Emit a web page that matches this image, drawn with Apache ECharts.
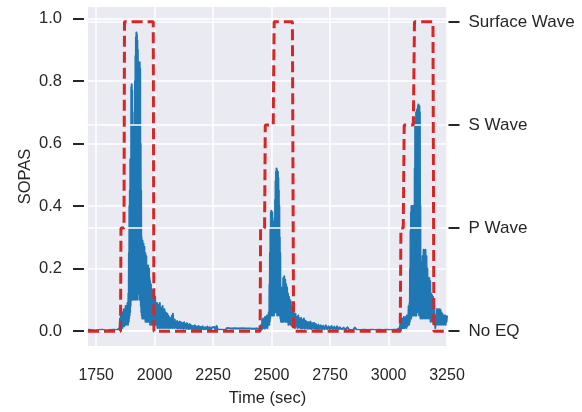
<!DOCTYPE html>
<html><head><meta charset="utf-8">
<script src="https://cdn.jsdelivr.net/npm/echarts@6/dist/echarts.min.js"></script>
<style>html,body{margin:0;padding:0;background:#fff}#c{width:582px;height:412px}</style>
</head><body><div id="c"></div>
<script>
// ---- data ----
var timeTicks = [1750, 2000, 2250, 2500, 2750, 3000, 3250];
var sopasTicks = [0, 0.2, 0.4, 0.6, 0.8, 1.0];
var waveLevels = [0, 1, 2, 3];
var waveLabels = ['No EQ', 'P Wave', 'S Wave', 'Surface Wave'];

// SOPAS signal: [time (sec), value]
var sopasSeries = [
[1715,.004],[1721,.006],[1729,.003],[1737,.005],[1745,.002],[1753,.006],[1761,.003],[1769,.005],[1777,.004],[1785,.006],[1793,.002],[1801,.005],[1809,.003],[1817,.006],[1825,.004],[1833,.005],[1841,.003],[1848,.006],
[1850,.01],[1852,.04],[1854,.01],[1856,.05],[1858,.015],[1860,.06],[1862,.01],[1864,.05],[1866,.02],[1868,.07],[1870,.015],[1872,.06],[1874,.02],[1876,.08],[1878,.02],[1880,.07],[1882,.025],[1884,.09],[1886,.02],[1888,.12],
[1889,.03],[1890,.25],[1891,.04],[1892,.4],[1893,.05],[1894,.45],[1895,.06],[1896,.55],[1897,.08],[1898,.5],[1899,.1],[1900,.78],[1901,.2],[1902,.79],[1903,.15],[1904,.77],[1905,.1],[1906,.6],[1907,.12],[1908,.58],[1909,.1],[1910,.62],
[1911,.15],[1912,.66],[1913,.12],[1914,.7],[1915,.15],[1916,.8],[1917,.1],[1918,.88],[1919,.2],[1920,.94],[1921,.15],[1922,.955],[1923,.2],[1924,.95],[1925,.1],[1926,.93],[1927,.2],[1928,.9],[1929,.12],[1930,.86],[1931,.25],[1932,.85],
[1933,.28],[1934,.8],[1935,.1],[1936,.86],[1937,.15],[1938,.84],[1939,.1],[1940,.6],[1941,.08],[1942,.45],[1943,.06],[1944,.3],[1945,.05],[1946,.28],[1947,.04],[1948,.29],[1949,.05],[1950,.27],[1951,.04],[1952,.28],[1953,.05],[1954,.26],
[1955,.04],[1956,.27],[1957,.05],[1958,.24],[1959,.04],[1960,.25],[1961,.03],[1962,.22],[1963,.04],[1964,.24],[1965,.03],[1966,.2],[1967,.04],[1968,.21],[1969,.03],[1970,.2],[1971,.04],[1972,.21],[1973,.03],[1974,.18],[1975,.03],[1976,.2],
[1977,.03],[1978,.17],[1979,.03],[1980,.16],[1981,.02],[1982,.14],[1983,.03],[1984,.15],[1985,.02],[1986,.12],[1988,.03],[1990,.13],[1992,.02],[1994,.11],[1996,.03],[1998,.1],[2000,.02],[2002,.11],[2004,.02],[2006,.09],[2008,.02],[2010,.09],
[2012,.01],[2014,.085],[2016,.02],[2018,.08],[2020,.01],[2022,.09],[2024,.02],[2026,.075],[2028,.01],[2030,.07],[2032,.02],[2034,.08],[2036,.01],[2038,.065],[2040,.02],[2042,.07],[2044,.01],[2046,.06],[2048,.02],[2050,.058],[2052,.01],
[2054,.055],[2056,.02],[2058,.05],[2060,.01],[2062,.045],[2064,.015],[2066,.04],[2068,.01],[2070,.042],[2072,.015],[2074,.05],[2076,.01],[2078,.055],[2080,.015],[2082,.038],[2084,.01],[2086,.036],[2088,.012],[2090,.03],[2093,.01],
[2096,.032],[2099,.008],[2102,.028],[2105,.01],[2108,.03],[2111,.008],[2114,.027],[2117,.01],[2120,.025],[2123,.007],[2126,.028],[2129,.01],[2132,.022],[2135,.007],[2138,.025],[2141,.008],[2144,.02],[2147,.006],[2150,.022],[2153,.008],
[2156,.018],[2160,.006],[2164,.016],[2168,.005],[2172,.018],[2176,.006],[2180,.014],[2184,.005],[2188,.016],[2192,.004],[2196,.013],[2200,.005],[2205,.015],[2210,.004],[2215,.012],[2220,.005],[2225,.014],[2230,.004],[2235,.012],
[2240,.004],[2245,.011],[2250,.005],[2255,.013],[2260,.004],[2265,.016],[2270,.004],[2278,.01],[2286,.004],[2294,.009],[2302,.003],[2310,.01],[2318,.004],[2326,.008],[2334,.003],[2342,.009],[2350,.004],[2358,.008],[2366,.003],
[2374,.009],[2382,.004],[2390,.008],[2398,.003],[2406,.008],[2414,.004],[2422,.007],[2430,.003],[2438,.008],[2446,.004],[2452,.006],
[2456,.02],[2458,.005],[2460,.035],[2462,.01],[2464,.04],[2466,.01],[2468,.03],[2470,.008],[2472,.045],[2474,.01],[2476,.04],[2478,.015],[2480,.05],[2482,.01],[2484,.045],[2486,.02],[2488,.06],[2490,.02],[2491,.15],[2492,.03],[2493,.25],
[2494,.04],[2495,.33],[2496,.05],[2497,.38],[2498,.06],[2499,.385],[2500,.05],[2501,.37],[2502,.07],[2503,.38],[2504,.05],[2505,.35],[2506,.08],[2507,.3],[2508,.06],[2509,.34],[2510,.05],[2511,.28],[2512,.06],[2513,.36],[2514,.07],
[2515,.42],[2516,.06],[2517,.48],[2518,.08],[2519,.51],[2520,.06],[2521,.52],[2522,.07],[2523,.515],[2524,.05],[2525,.5],[2526,.08],[2527,.51],[2528,.06],[2529,.49],[2530,.07],[2531,.45],[2532,.05],[2533,.4],[2534,.06],[2535,.3],
[2536,.05],[2537,.25],[2538,.04],[2539,.12],[2540,.03],[2542,.1],[2544,.03],[2546,.14],[2548,.03],[2550,.17],[2552,.03],[2554,.175],[2556,.04],[2558,.165],[2560,.03],[2562,.15],[2564,.03],[2566,.14],[2568,.03],[2570,.12],[2572,.02],
[2574,.11],[2576,.03],[2578,.1],[2580,.02],[2582,.095],[2584,.02],[2586,.08],[2588,.015],[2590,.07],[2592,.02],[2594,.06],[2596,.015],[2598,.05],[2600,.01],[2602,.055],[2605,.015],[2608,.045],[2611,.01],[2614,.05],[2617,.012],
[2620,.04],[2623,.01],[2626,.042],[2629,.008],[2632,.035],[2635,.01],[2638,.04],[2641,.008],[2644,.033],[2647,.01],[2650,.03],[2654,.007],[2658,.028],[2662,.008],[2666,.03],[2670,.006],[2674,.025],[2678,.008],[2682,.026],[2686,.006],
[2690,.022],[2695,.005],[2700,.02],[2705,.006],[2710,.018],[2715,.005],[2720,.017],[2726,.004],[2732,.018],[2738,.005],[2744,.015],[2750,.004],[2756,.016],[2762,.005],[2768,.014],[2774,.004],[2780,.015],[2786,.004],[2792,.012],
[2800,.004],[2808,.011],[2816,.003],[2824,.012],[2832,.004],[2840,.01],[2848,.003],[2856,.011],[2864,.004],[2872,.01],[2880,.003],[2888,.009],[2896,.004],[2904,.01],[2912,.003],[2920,.009],[2928,.004],[2936,.01],[2944,.003],
[2952,.009],[2960,.004],[2968,.008],[2976,.003],[2984,.009],[2992,.004],[3000,.008],[3008,.003],[3016,.009],[3024,.004],[3032,.008],[3038,.005],[3044,.006],
[3048,.01],[3050,.02],[3052,.005],[3054,.03],[3056,.01],[3058,.04],[3060,.01],[3062,.035],[3064,.01],[3066,.045],[3068,.01],[3070,.04],[3072,.015],[3074,.045],[3076,.01],[3078,.05],[3080,.015],[3082,.045],[3084,.02],[3086,.08],
[3088,.02],[3090,.09],[3091,.03],[3092,.2],[3093,.04],[3094,.32],[3095,.05],[3096,.38],[3097,.04],[3098,.4],[3099,.05],[3100,.38],[3101,.06],[3102,.4],[3103,.05],[3104,.39],[3105,.06],[3106,.4],[3107,.05],[3108,.38],[3109,.06],
[3110,.4],[3111,.05],[3112,.52],[3113,.06],[3114,.67],[3115,.05],[3116,.68],[3117,.07],[3118,.7],[3119,.05],[3120,.69],[3121,.07],[3122,.71],[3123,.06],[3124,.7],[3125,.08],[3126,.72],[3127,.06],[3128,.725],[3129,.07],[3130,.72],
[3131,.05],[3132,.72],[3133,.06],[3134,.7],[3135,.05],[3136,.4],[3137,.04],[3138,.22],[3140,.05],[3142,.2],[3144,.04],[3146,.24],[3148,.05],[3150,.26],[3152,.04],[3154,.255],[3156,.05],[3158,.26],[3160,.04],[3162,.24],[3164,.05],
[3166,.2],[3168,.04],[3170,.17],[3172,.05],[3174,.17],[3176,.04],[3178,.16],[3180,.03],[3182,.12],[3184,.04],[3186,.115],[3188,.03],[3190,.11],[3192,.03],[3194,.09],[3196,.02],[3198,.04],[3200,.01],[3202,.05],[3204,.02],[3206,.07],
[3208,.03],[3210,.07],[3212,.02],[3214,.065],[3216,.03],[3218,.07],[3220,.02],[3222,.068],[3224,.03],[3226,.06],[3228,.02],[3230,.055],[3232,.03],[3234,.05],[3236,.02],[3238,.05],[3240,.03],[3242,.05],[3244,.02],[3246,.045],[3248,.03],[3250,.05]
];

// Earthquake phase label: [time (sec), level index into waveLabels]
var phaseSeries = [
[1715,0],[1854,0],[1856,1],[1869,1],[1871,3],[1994,3],[1997,0],
[2451,0],[2453,1],[2470,1],[2473,2],[2507,2],[2511,3],[2589,3],[2594,0],
[3050,0],[3053,1],[3063,1],[3067,2],[3106,2],[3111,3],[3190,3],[3194,0],[3250,0]
];

var FONT = 'Liberation Sans';
var TXT = '#262626';
var chart = echarts.init(document.getElementById('c'), null, {renderer: 'canvas'});
chart.setOption({
  animation: false,
  backgroundColor: '#ffffff',
  grid: {left: 88, right: 135, top: 7, bottom: 64, show: true, backgroundColor: '#EAEAF2', borderWidth: 0, z: 0},
  xAxis: {
    type: 'value', min: 1715, max: 3250, z: 1,
    name: 'Time (sec)', nameLocation: 'middle', nameGap: 44, nameMoveOverlap: false,
    nameTextStyle: {fontFamily: FONT, fontSize: 16.5, color: TXT},
    axisLine: {show: false},
    axisTick: {show: false, customValues: timeTicks},
    axisLabel: {customValues: timeTicks, margin: 22, fontFamily: FONT, fontSize: 16, color: TXT,
      formatter: function (v) { return String(v); }},
    splitLine: {show: true, lineStyle: {color: '#ffffff', width: 1.5}}
  },
  yAxis: [{
    type: 'value', position: 'left', min: -0.048, max: 1.037, z: 1, offset: 4,
    name: 'SOPAS', nameLocation: 'middle', nameGap: 50, nameMoveOverlap: false,
    nameTextStyle: {fontFamily: FONT, fontSize: 16.5, color: TXT},
    axisLine: {show: false},
    axisTick: {show: true, inside: false, length: 11, customValues: sopasTicks, lineStyle: {color: TXT, width: 2}},
    axisLabel: {customValues: sopasTicks, margin: 22, fontFamily: FONT, fontSize: 16.5, color: TXT,
      formatter: function (v) { return v.toFixed(1); }},
    splitLine: {show: true, lineStyle: {color: '#ffffff', width: 1.5}}
  }, {
    type: 'value', position: 'right', min: -0.144, max: 3.144, z: 3, offset: 1.5,
    axisLine: {show: false},
    axisTick: {show: true, inside: false, length: 11, customValues: waveLevels, lineStyle: {color: TXT, width: 2}},
    axisLabel: {customValues: waveLevels, margin: 20, fontFamily: FONT, fontSize: 17, color: TXT,
      formatter: function (v) { return waveLabels[Math.round(v)]; }},
    splitLine: {show: true, lineStyle: {color: '#ffffff', width: 1.5}}
  }],
  series: [{
    name: 'SOPAS', type: 'line', yAxisIndex: 0, z: 2, data: sopasSeries,
    showSymbol: false, symbol: 'none',
    lineStyle: {color: '#1f77b4', width: 2, join: 'round'}
  }, {
    name: 'Phase', type: 'line', yAxisIndex: 1, z: 4, data: phaseSeries,
    showSymbol: false, symbol: 'none',
    lineStyle: {color: '#d62728', width: 3, type: [11, 5]}
  }]
});
</script>
</body></html>
